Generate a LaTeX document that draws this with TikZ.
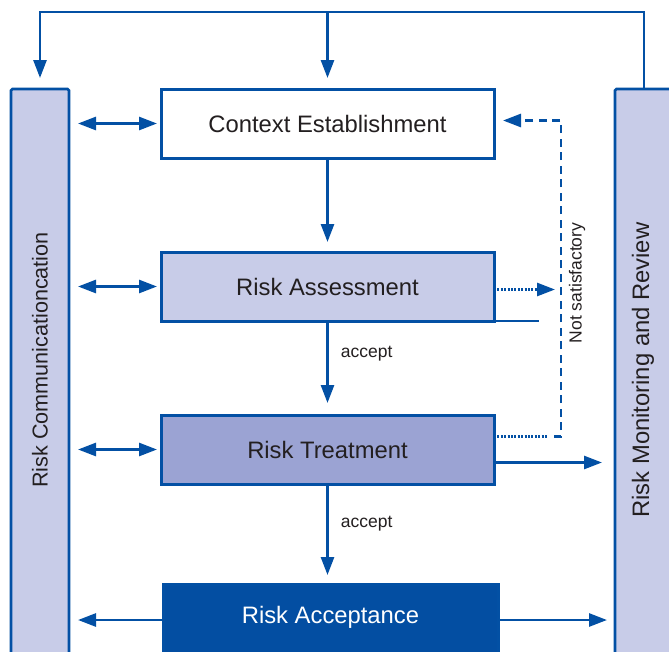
\documentclass[tikz,border=0pt]{standalone}
\usepackage{fontspec}
\setmainfont{Liberation Sans}
\usetikzlibrary{arrows.meta,calc}
\definecolor{lineblue}{HTML}{0350A4}
\definecolor{lightlav}{HTML}{C8CCE8}
\definecolor{midlav}{HTML}{9BA3D3}
\definecolor{darkblue}{HTML}{034EA2}
\definecolor{txt}{HTML}{231F20}
\begin{document}
\begin{tikzpicture}[x=1pt,y=-1pt,
  box/.style={draw=lineblue,line width=3pt,minimum width=333pt,minimum height=69pt,inner sep=0pt,outer sep=0pt,anchor=north west,font=\fontsize{23.8}{28}\selectfont,text=txt},
  bar/.style={draw=lineblue,line width=2.6pt,fill=lightlav,rounded corners=1.5pt,anchor=north west,minimum width=58pt,minimum height=620pt,inner sep=0pt,outer sep=0pt},
  bartext/.style={rotate=90,text=txt},
  smalltext/.style={font=\fontsize{17.5}{21}\selectfont,text=txt,inner sep=1pt},
  tip/.style={-{Triangle[length=18pt,width=13pt]}},
  conn/.style={draw=lineblue,line width=2.7pt,tip},
  dconn/.style={draw=lineblue,line width=2.7pt,{Triangle[length=18pt,width=13pt]}-{Triangle[length=18pt,width=13pt]}},
  plain/.style={draw=lineblue,line width=2.8pt},
  dotline/.style={draw=lineblue,line width=2.7pt,dash pattern=on 2pt off 1.4pt},
  dashline/.style={draw=lineblue,line width=2.7pt,dash pattern=on 8pt off 5.5pt}]
\useasboundingbox (0,0) rectangle (669,651);
\fill[white] (0,0) rectangle (669,651);

% bars
\node[bar] (leftbar) at (11,89) {};
\node[bar] (rightbar) at (615,89) {};
\node[bartext,font=\fontsize{21.6}{26}\selectfont] (lbt) at (40,360) {Risk Communicationcation};
\node[bartext,font=\fontsize{23.8}{28}\selectfont] (rbt) at (643,370) {Risk Monitoring and Review};

% boxes
\node[box,fill=white] (ce) at (161,89) {Context Establishment};
\node[box,fill=lightlav] (ra) at (161,252) {Risk Assessment};
\node[box,fill=midlav] (rt) at (161,415) {Risk Treatment};
\node[box,fill=darkblue,text=white,minimum width=335pt,minimum height=72pt] (acc) at (163,584) {\raisebox{11pt}{Risk Acceptance}};

% top frame
\coordinate (top) at (0,12);
\draw[conn,shorten >=11pt] (rightbar.north) -- (rightbar.north |- top) -- (leftbar.north |- top) -- (leftbar.north);
\draw[conn,shorten >=11pt] (ce.north |- top) -- (ce.north);

% vertical flow
\draw[conn,shorten >=10pt] (ce.south) -- (ra.north);
\draw[conn,shorten >=12pt] (ra.south) -- (rt.north) node[smalltext,pos=0.35,right=11pt] (acc1) {accept};
\draw[conn,shorten >=9pt] (rt.south) -- (rt.south |- acc.north) node[smalltext,pos=0.4,right=11pt] (acc2) {accept};

% left double arrows
\draw[dconn,shorten <=9pt,shorten >=4pt] (leftbar.east |- ce.west) -- (ce.west);
\draw[dconn,shorten <=9pt,shorten >=4pt] (leftbar.east |- ra.west) -- (ra.west);
\draw[dconn,shorten <=9pt,shorten >=4pt] (leftbar.east |- rt.west) -- (rt.west);
\draw[conn,shorten >=9pt] (acc.west) -- (leftbar.east |- acc.west);
\draw[conn,shorten >=8pt] (acc.east) -- (rightbar.west |- acc.east);

% assessment bottom extension
\draw[plain] (ra.south east) -- ++(45,0);

% not satisfactory loop
\coordinate (loopx) at (561,0);
\coordinate (d0) at ($(ra.east)+(0,3)$);
\draw[dotline,tip,shorten >=6pt] (d0) -- (d0 -| loopx);
\coordinate (d1) at ($(rt.east)+(0,-13)$);
\draw[dotline,shorten >=13pt] (d1) -- (d1 -| loopx);
\coordinate (d2) at ($(ce.east)+(0,-3)$);
\draw[dashline,tip,shorten >=9pt] ($(d1 -| loopx)+(-7,0)$) -- (d1 -| loopx) -- (loopx |- d2) -- (d2);
\node[smalltext,rotate=90] (ns) at (577,283) {Not satisfactory};

% treatment to monitoring
\coordinate (d3) at ($(rt.east)+(0,13)$);
\draw[conn,shorten >=13pt] (d3) -- (rightbar.west |- d3);
\end{tikzpicture}
\end{document}
